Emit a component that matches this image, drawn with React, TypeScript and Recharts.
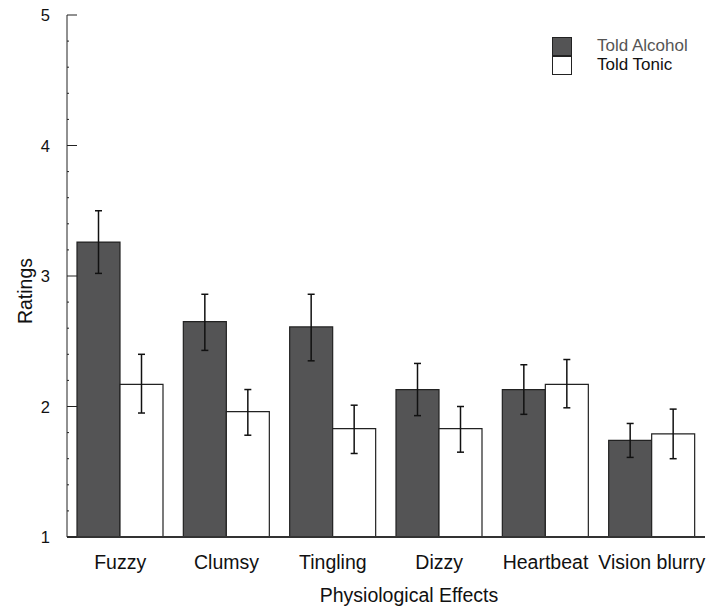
import React from "react";
import { BarChart, Bar, XAxis, YAxis, ErrorBar, Legend } from "recharts";

const effects = ["Fuzzy", "Clumsy", "Tingling", "Dizzy", "Heartbeat", "Vision blurry"];
const alcohol = [3.26, 2.65, 2.61, 2.13, 2.13, 1.74];
const alcoholErr = [
  [0.24, 0.24],
  [0.22, 0.21],
  [0.26, 0.25],
  [0.2, 0.2],
  [0.19, 0.19],
  [0.13, 0.13],
];
const tonic = [2.17, 1.96, 1.83, 1.83, 2.17, 1.79];
const tonicErr = [
  [0.22, 0.23],
  [0.18, 0.17],
  [0.19, 0.18],
  [0.18, 0.17],
  [0.18, 0.19],
  [0.19, 0.19],
];
const yTicks = [1, 1.2, 1.4, 1.6, 1.8, 2, 2.2, 2.4, 2.6, 2.8, 3, 3.2, 3.4, 3.6, 3.8, 4, 4.2, 4.4, 4.6, 4.8, 5];

const data = effects.map((name, i) => ({
  name,
  alcohol: alcohol[i],
  alcoholErr: alcoholErr[i],
  tonic: tonic[i],
  tonicErr: tonicErr[i],
}));

const FONT = "'Liberation Sans', Arial, Helvetica, sans-serif";

function YTick(props: any) {
  const { x, y, payload } = props;
  const v = payload.value as number;
  const major = Math.abs(v - Math.round(v)) < 1e-6;
  const axisX = x + 17;
  return (
    <g>
      <line x1={axisX} x2={axisX + (major ? 10 : 2)} y1={y} y2={y} stroke="#222" strokeWidth={1} />
      {major && (
        <text x={x} y={y} textAnchor="end" dominantBaseline="central" fontSize={16.5} fill="#111" fontFamily={FONT}>
          {v}
        </text>
      )}
    </g>
  );
}

// legend drawn by hand: two stacked boxes with the labels beside them
function LegendBox() {
  const box = (fill: string) => (
    <div style={{ width: 18, height: 17, background: fill, border: "1px solid #222" }} />
  );
  const text = (label: string, color: string) => (
    <div style={{ height: 19, lineHeight: "19px", fontSize: 17, color, fontFamily: FONT, whiteSpace: "nowrap" }}>
      {label}
    </div>
  );
  return (
    <div style={{ display: "flex" }}>
      <div style={{ marginTop: 1 }}>
        {box("#545455")}
        {box("#fff")}
      </div>
      <div style={{ marginLeft: 25 }}>
        {text("Told Alcohol", "#555")}
        {text("Told Tonic", "#111")}
      </div>
    </div>
  );
}

export default function App() {
  return (
    <div style={{ position: "absolute", left: 0, top: 0, background: "#fff" }}>
      <BarChart
        width={707}
        height={609}
        data={data}
        margin={{ top: 15, right: 2, left: 0, bottom: 0 }}
        barCategoryGap={10}
        barGap={0}
      >
        <XAxis
          dataKey="name"
          height={72}
          tickLine={false}
          axisLine={{ stroke: "#333", strokeWidth: 2 }}
          tick={{ fontSize: 19.5, fill: "#111", fontFamily: FONT }}
          tickMargin={12}
          interval={0}
          label={() => (
            <text x={409} y={602} textAnchor="middle" fontSize={19.5} fill="#111" fontFamily={FONT}>
              Physiological Effects
            </text>
          )}
        />
        <YAxis
          type="number"
          domain={[1, 5]}
          ticks={yTicks}
          interval={0}
          width={67}
          tickSize={0}
          tickMargin={17}
          tickLine={false}
          axisLine={{ stroke: "#222", strokeWidth: 1 }}
          tick={<YTick />}
          label={() => (
            <text
              x={32}
              y={291}
              transform="rotate(-90 32 291)"
              textAnchor="middle"
              fontSize={19.5}
              fill="#111"
              fontFamily={FONT}
            >
              Ratings
            </text>
          )}
        />
        <Legend
          layout="vertical"
          align="center"
          verticalAlign="middle"
          content={<LegendBox />}
          wrapperStyle={{ top: 36, left: 552, width: 155 }}
        />
        <Bar dataKey="alcohol" name="Told Alcohol" fill="#545455" stroke="#222" strokeWidth={1.2} isAnimationActive={false}>
          <ErrorBar dataKey="alcoholErr" width={3.5} stroke="#111" strokeWidth={1.5} direction="y" />
        </Bar>
        <Bar dataKey="tonic" name="Told Tonic" fill="#ffffff" stroke="#222" strokeWidth={1.2} isAnimationActive={false}>
          <ErrorBar dataKey="tonicErr" width={3.5} stroke="#111" strokeWidth={1.5} direction="y" />
        </Bar>
      </BarChart>
    </div>
  );
}
